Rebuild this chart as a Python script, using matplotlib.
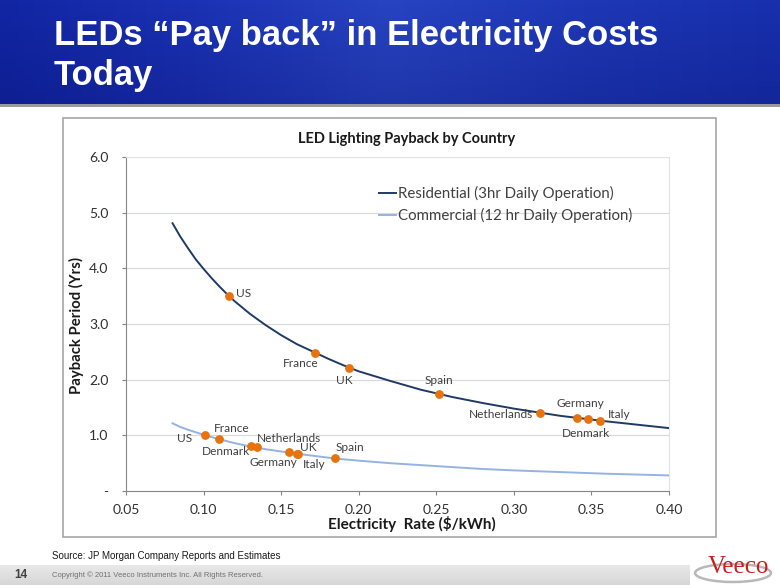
import numpy as np
import matplotlib
matplotlib.use("Agg")
import matplotlib.pyplot as plt
from matplotlib.patches import Rectangle, Ellipse
from matplotlib.colors import LinearSegmentedColormap

# ---------------- data ----------------
curve_x = [0.08, 0.085, 0.09, 0.095, 0.10, 0.105, 0.11, 0.115, 0.12, 0.13, 0.14, 0.15,
           0.16, 0.17, 0.18, 0.19, 0.20, 0.22, 0.24, 0.26, 0.28, 0.30, 0.33, 0.36, 0.38, 0.40]
residential_curve = [4.81, 4.57, 4.36, 4.16, 3.99, 3.83, 3.68, 3.54, 3.41, 3.18, 2.98, 2.80,
                     2.64, 2.51, 2.38, 2.26, 2.15, 1.98, 1.82, 1.69, 1.58, 1.48, 1.35, 1.25,
                     1.19, 1.13]
commercial_curve = [1.216, 1.15, 1.10, 1.055, 1.01, 0.97, 0.93, 0.895, 0.86, 0.80, 0.75, 0.71,
                    0.67, 0.635, 0.60, 0.57, 0.545, 0.50, 0.465, 0.43, 0.395, 0.37, 0.34, 0.31,
                    0.295, 0.28]

res_countries = ["US", "France", "UK", "Spain", "Netherlands", "Germany", "Denmark", "Italy"]
res_rate = [0.1167, 0.172, 0.194, 0.2515, 0.3167, 0.341, 0.3476, 0.3556]
res_payback = [3.50, 2.48, 2.215, 1.742, 1.407, 1.311, 1.293, 1.263]

com_countries = ["US", "France", "Denmark", "Netherlands", "Germany", "UK", "Italy", "Spain"]
com_rate = [0.101, 0.110, 0.1306, 0.1347, 0.1552, 0.1600, 0.1606, 0.1844]
com_payback = [1.006, 0.929, 0.808, 0.785, 0.695, 0.672, 0.670, 0.587]

x_ticks = [0.05, 0.10, 0.15, 0.20, 0.25, 0.30, 0.35, 0.40]
y_ticks = [0, 1, 2, 3, 4, 5, 6]
y_tick_labels = ["-", "1.0", "2.0", "3.0", "4.0", "5.0", "6.0"]

# label offsets (pixels) for annotations
res_offsets = [(14.5, 2.7), (-15, -10.7), (-4.6, -12.6), (0, 13.3),
               (-38.8, -1.6), (2.7, 14.3), (-1.5, -14.3), (19.5, 6.4)]
com_offsets = [(-20.3, -4), (12.7, 10.3), (-25.3, -5.7), (31.5, 9.0),
               (-15.7, -10.4), (11.5, 5.7), (16.3, -10.6), (15.7, 11.3)]

# ---------------- styles ----------------
FONT = ["Lato", "DejaVu Sans"]
plt.rcParams["font.family"] = FONT
NAVY = "#1F3A66"
LIGHT = "#95B3E0"
ORANGE = "#E8720C"
TXT = "#404040"

W, H = 780, 585
fig = plt.figure(figsize=(W / 100, H / 100), dpi=100)
fig.patch.set_facecolor("white")

def fx(px):
    return px / W

def fy(py):
    return 1 - py / H

# ---------- chart frame (drawn first, below axes) ----------
fig.patches.append(Rectangle((fx(63), fy(537)), fx(716) - fx(63), fy(118) - fy(537),
                             transform=fig.transFigure, facecolor="none",
                             edgecolor="#A6A6A6", linewidth=1.2, zorder=-5))

# ---------- header bar ----------
hdr = fig.add_axes([0, fy(104), 1, 104 / H])
hdr.set_axis_off()
cmap = LinearSegmentedColormap.from_list("b", ["#1226A4", "#1B32B4", "#2844C2", "#1E38B6", "#1830AE"])
grad = np.linspace(0, 1, 256).reshape(1, -1)
hdr.imshow(grad, aspect="auto", cmap=cmap, extent=[0, 1, 0, 1])
vgrad = np.linspace(0, 1, 64).reshape(-1, 1)
hdr.imshow(vgrad, aspect="auto", cmap=LinearSegmentedColormap.from_list(
    "v", [(0, 0, 0.3, 0.0), (0, 0, 0.3, 0.2)]), extent=[0, 1, 0, 1])
hdr.set_xlim(0, 1); hdr.set_ylim(0, 1)
fig.text(fx(54), fy(35), "LEDs \u201cPay back\u201d in Electricity Costs", color="white",
         fontsize=24.9, fontweight="bold", family=["Liberation Sans", "DejaVu Sans"],
         va="center", ha="left")
fig.text(fx(54), fy(76), "Today", color="white",
         fontsize=24.9, fontweight="bold", family=["Liberation Sans", "DejaVu Sans"],
         va="center", ha="left")
fig.patches.append(Rectangle((0, fy(107)), 1, 3 / H, transform=fig.transFigure,
                             facecolor="#9A9A9A", edgecolor="none"))

# ---------- main axes ----------
ax = fig.add_axes([fx(126), fy(491), fx(669) - fx(126), fy(157) - fy(491)])
ax.patch.set_alpha(0)
ax.plot(curve_x, residential_curve, color=NAVY, lw=1.4, label="Residential (3hr Daily Operation)", zorder=3)
ax.plot(curve_x, commercial_curve, color=LIGHT, lw=1.4, label="Commercial (12 hr Daily Operation)", zorder=3)
ax.plot(res_rate, res_payback, "o", color=ORANGE, ms=5.3, zorder=4, mec=ORANGE)
ax.plot(com_rate, com_payback, "o", color=ORANGE, ms=5.3, zorder=4, mec=ORANGE)

for name, xv, yv, off in zip(res_countries, res_rate, res_payback, res_offsets):
    ax.annotate(name, (xv, yv), xytext=off, textcoords="offset pixels",
                ha="center", va="center", fontsize=8.6, color=TXT)
for name, xv, yv, off in zip(com_countries, com_rate, com_payback, com_offsets):
    ax.annotate(name, (xv, yv), xytext=off, textcoords="offset pixels",
                ha="center", va="center", fontsize=8.6, color=TXT)

ax.set_xlim(0.05, 0.40)
ax.set_ylim(0, 6)
ax.set_xticks(x_ticks)
ax.set_xticklabels([f"{v:.2f}" for v in x_ticks])
ax.set_yticks(y_ticks)
ax.set_yticklabels(y_tick_labels)
ax.tick_params(axis="both", labelsize=10, colors="#868686", labelcolor="#303030",
               direction="out", length=3, width=0.8)
ax.tick_params(axis="y", pad=9.5)
ax.tick_params(axis="x", pad=6.5)
ax.yaxis.grid(True, color="#D9D9D9", lw=0.8)
ax.set_axisbelow(True)
for s in ["left", "bottom"]:
    ax.spines[s].set_color("#868686")
    ax.spines[s].set_linewidth(0.8)
ax.spines["top"].set_color("#E3E3E3")
ax.spines["right"].set_color("#E3E3E3")
ax.spines["top"].set_linewidth(0.8)
ax.spines["right"].set_linewidth(0.8)

leg = ax.legend(loc="upper left", bbox_to_anchor=(fx(379), fy(186)),
                bbox_transform=fig.transFigure, frameon=False, fontsize=10.8,
                handlelength=1.1, handletextpad=0.15, labelspacing=0.45,
                borderpad=0, borderaxespad=0)
for t in leg.get_texts():
    t.set_color(TXT)

fig.text(fx(412), fy(524), "Electricity  Rate ($/kWh)", ha="center", va="center",
         fontsize=11, fontweight="bold", color="#1a1a1a")
fig.text(fx(76), fy(325), "Payback Period (Yrs)", ha="center", va="center",
         rotation=90, fontsize=10.7, fontweight="bold", color="#1a1a1a")
fig.text(fx(407), fy(139), "LED Lighting Payback by Country", ha="center", va="center",
         fontsize=10.5, fontweight="bold", color="#1a1a1a")

# ---------- footer ----------
fig.text(fx(52), fy(556), "Source: JP Morgan Company Reports and Estimates", ha="left",
         va="center", fontsize=7, family=["Liberation Sans", "DejaVu Sans"], color="#1a1a1a")
ftr = fig.add_axes([0, 0, fx(690), (H - 565) / H])
ftr.set_axis_off()
ftr.imshow(np.linspace(0, 1, 64).reshape(-1, 1), aspect="auto",
           cmap=LinearSegmentedColormap.from_list("g", ["#EAEAEA", "#D6D6D6"]),
           extent=[0, 1, 0, 1])
ftr.set_xlim(0, 1); ftr.set_ylim(0, 1)
fig.text(fx(14), fy(575), "14", ha="left", va="center", fontsize=8.5, fontweight="bold",
         family=["Liberation Sans", "DejaVu Sans"], color="#404040")
fig.text(fx(52), fy(575), "Copyright \u00a9 2011 Veeco Instruments Inc. All Rights Reserved.",
         ha="left", va="center", fontsize=5.5, family=["Liberation Sans", "DejaVu Sans"],
         color="#707070")
fig.patches.append(Ellipse((fx(733), fy(573)), fx(76), 18 / H, transform=fig.transFigure,
                           facecolor="none", edgecolor="#B8B8B8", linewidth=1.8))
fig.text(fx(738), fy(567), "Veeco", ha="center", va="center", fontsize=18,
         family=["Liberation Serif", "DejaVu Serif"], color="#C8201E")

fig.savefig("out.png", dpi=100)
